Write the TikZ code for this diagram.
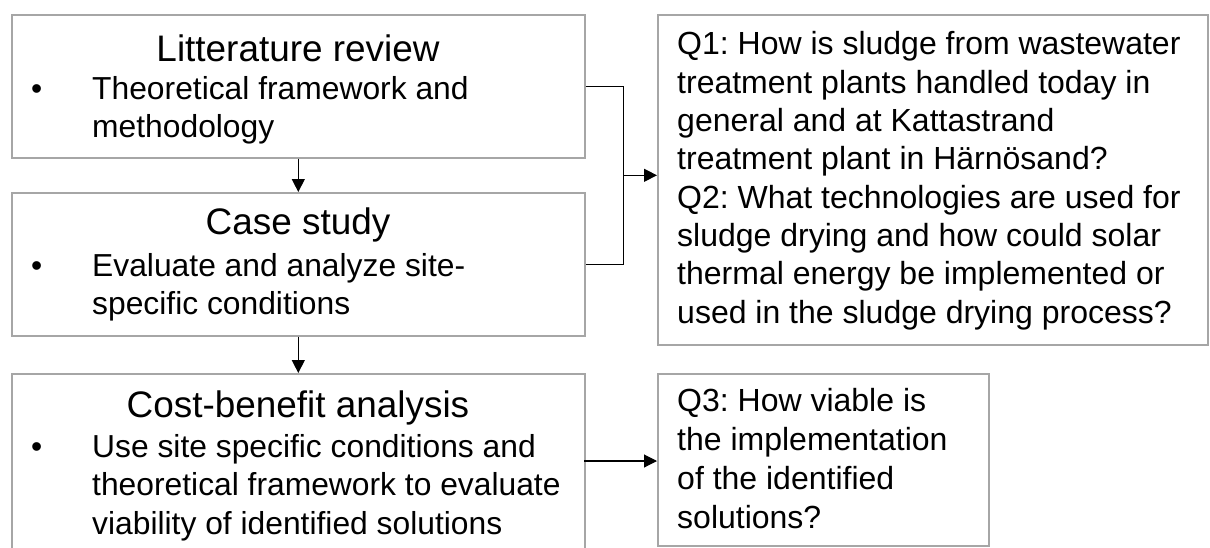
\documentclass[tikz,border=0pt]{standalone}
\usepackage{fontspec}
\setmainfont{Liberation Sans}
\usetikzlibrary{arrows.meta,calc}
\definecolor{boxgray}{HTML}{A6A6A6}
\frenchspacing
\tikzset{
  box/.style={draw=boxgray, line width=1.6pt, rectangle, inner sep=0pt, anchor=north west},
  ttl/.style={inner sep=0pt, anchor=base, font=\fontsize{36.9}{38.5}\selectfont},
  txt/.style={inner sep=0pt, anchor=base west, align=left, font=\fontsize{31.8}{38.5}\selectfont},
  qtxt/.style={inner sep=0pt, anchor=base west, align=left, font=\fontsize{32}{38.3}\selectfont},
  conn/.style={draw=black, line width=1.1pt},
  arr/.style={conn, -{Triangle[length=13pt,width=13pt]}}
}
\begin{document}
\begin{tikzpicture}[x=1pt,y=-1pt]
\clip (0,0) rectangle (1210,547);
\useasboundingbox (0,0) rectangle (1210,547);
% boxes
\node[box, minimum width=573pt, minimum height=143pt] (b1) at (11,14) {};
\node[box, minimum width=573pt, minimum height=143pt] (b2) at (11,192) {};
\node[box, minimum width=573pt, minimum height=177pt] (b3) at (11,373) {};
\node[box, minimum width=550pt, minimum height=330pt] (q1) at (657,14) {};
\node[box, minimum width=331pt, minimum height=172pt] (q3) at (657,373) {};
% box 1 (multi-line nodes are anchored at the baseline of their last line)
\node[ttl] (t1) at (298,61) {Litterature review};
\node[txt] (u1) at (31,99) {•};
\node[txt] (x1) at (92,137.5) {Theoretical framework and\\methodology};
% box 2
\node[ttl] (t2) at (298,234) {Case study};
\node[txt] (u2) at (31,276) {•};
\node[txt] (x2) at (92,314.5) {Evaluate and analyze site-\\specific conditions};
% box 3
\node[ttl] (t3) at (298,417) {Cost-benefit analysis};
\node[txt] (u3) at (31,457) {•};
\node[txt] (x3) at (92,534) {Use site specific conditions and\\theoretical framework to evaluate\\viability of identified solutions};
% questions
\node[qtxt] (xq1) at (677,323) {Q1: How is sludge from wastewater\\treatment plants handled today in\\general and at Kattastrand\\treatment plant in Härnösand?\\Q2: What technologies are used for\\sludge drying and how could solar\\thermal energy be implemented or\\used in the sludge drying process?};
\node[qtxt, font=\fontsize{32}{38.7}\selectfont] (xq3) at (677,528) {Q3: How viable is\\the implementation\\of the identified\\solutions?};
% connectors
\coordinate (k1) at ([xshift=38pt]b1.east);
\coordinate (k2) at (k1 |- b2.east);
\coordinate (km) at ($(k1)!0.5!(k2)$);
\coordinate (k3) at (584,461);
\draw[conn] (b1.east) -- (k1) -- (k2) -- (b2.east);
\draw[arr] (km) -- (km -| q1.west);
\draw[arr] (b1.south) -- (b2.north);
\draw[arr] (b2.south) -- (b3.north);
\draw[arr] (k3) -- (k3 -| q3.west);
\end{tikzpicture}
\end{document}
